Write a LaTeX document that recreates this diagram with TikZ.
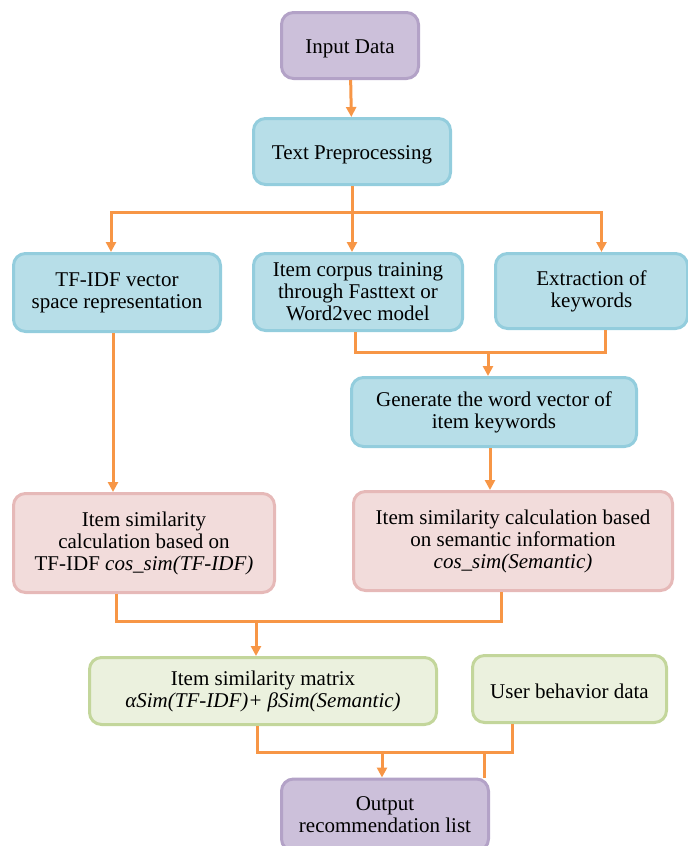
\documentclass[tikz,border=0pt]{standalone}
\usepackage{fontspec}
\setmainfont{Liberation Serif}
\usepackage{tikz}
\usetikzlibrary{arrows.meta, positioning}
\definecolor{flowline}{HTML}{F79646}
\definecolor{purplefill}{HTML}{CCC0DA}
\definecolor{purpleedge}{HTML}{B3A2C7}
\definecolor{bluefill}{HTML}{B7DEE8}
\definecolor{blueedge}{HTML}{93CDDD}
\definecolor{pinkfill}{HTML}{F2DCDB}
\definecolor{pinkedge}{HTML}{E6B9B8}
\definecolor{greenfill}{HTML}{EBF1DE}
\definecolor{greenedge}{HTML}{C3D69B}
\tikzset{
>={Triangle[length=10pt,width=10pt]}, % arrow heads of the flow lines
flow/.style={draw=flowline, line width=3pt}, % orange connectors
box/.style={rectangle, rounded corners=12pt, line width=3pt, align=center,
  font=\fontsize{21}{22}\selectfont, inner sep=2pt,
  execute at begin node={\rule{0pt}{20pt}}}, % every box, text sits a bit low
io/.style={box, fill=purplefill, draw=purpleedge}, % input and output
proc/.style={box, fill=bluefill, draw=blueedge}, % processing steps
simcalc/.style={box, fill=pinkfill, draw=pinkedge}, % similarity calculation
result/.style={box, fill=greenfill, draw=greenedge}, % matrix and user data
}
\begin{document}
\begin{tikzpicture}[x=1pt, y=-1pt]
    \useasboundingbox (0,0) rectangle (688,846);

    \node[io, minimum width=137pt, minimum height=66pt] (input) at (350,45.5) {Input Data};
    \node[proc, minimum width=197pt, minimum height=66pt] (prep) at (352,151.5) {Text Preprocessing};
    \node[proc, minimum width=207pt, minimum height=78pt] (tfidf) at (117,292.5) {TF-IDF vector\\space representation};
    \node[proc, minimum width=209pt, minimum height=77pt] (corpus) at (358,292) {Item corpus training\\through Fasttext or\\Word2vec model};
    \node[proc, minimum width=192pt, minimum height=75pt] (extract) at (591.5,291) {Extraction of\\keywords};
    \node[proc, minimum width=285pt, minimum height=69pt] (genvec) at (494,412) {Generate the word vector of\\item keywords};
    \node[simcalc, minimum width=261pt, minimum height=99pt] (simtf) at (144,543) {Item similarity\\calculation based on\\TF-IDF \textit{cos\_sim(TF-IDF)}};
    \node[simcalc, minimum width=319pt, minimum height=99pt] (simsem) at (513,541) {Item similarity calculation based\\on semantic information\\\textit{cos\_sim(Semantic)}};
    \node[result, minimum width=347pt, minimum height=67pt] (matrix) at (263,691) {Item similarity matrix\\\textit{αSim(TF-IDF)+ βSim(Semantic)}};
    \node[result, minimum width=194pt, minimum height=67pt] (user) at (569.5,689) {User behavior data};
    \node[io, minimum width=207pt, minimum height=72pt, execute at begin node={}] (output) at (385,815) {Output\\recommendation list};

    \coordinate (split) at (352,212);
    \coordinate (merge1) at (488,352);
    \coordinate (merge2) at (256,621);
    \coordinate (merge3) at (382,752);
    \coordinate (tap) at (484,752);

    \draw[flow, ->] (input) -- (prep);
    \draw[flow, ->] (prep.south) -- (prep.south |- corpus.north);
    \draw[flow, ->] (split) -| ([xshift=-6pt]tfidf.north);
    \draw[flow, ->] (split) -| ([xshift=10pt]extract.north);
    \draw[flow] ([xshift=-3pt]corpus.south) |- (merge1) -| ([xshift=14pt]extract.south);
    \draw[flow, ->] (merge1) -- (merge1 |- genvec.north);
    \draw[flow, ->] ([xshift=-4pt]tfidf.south) -- ([xshift=-4pt]tfidf.south |- simtf.north);
    \draw[flow, ->] ([xshift=-4pt]genvec.south) -- ([xshift=-4pt]genvec.south |- simsem.north);
    \draw[flow] ([xshift=-28pt]simtf.south) |- (merge2) -| ([xshift=-12pt]simsem.south);
    \draw[flow, ->] (merge2) -- (merge2 |- matrix.north);
    \draw[flow] ([xshift=-6pt]matrix.south) |- (merge3) -| ([xshift=-57pt]user.south);
    \draw[flow, ->] (merge3) -- (merge3 |- output.north);
    \draw[flow] (tap) -- (tap |- output.north);
\end{tikzpicture}
\end{document}
